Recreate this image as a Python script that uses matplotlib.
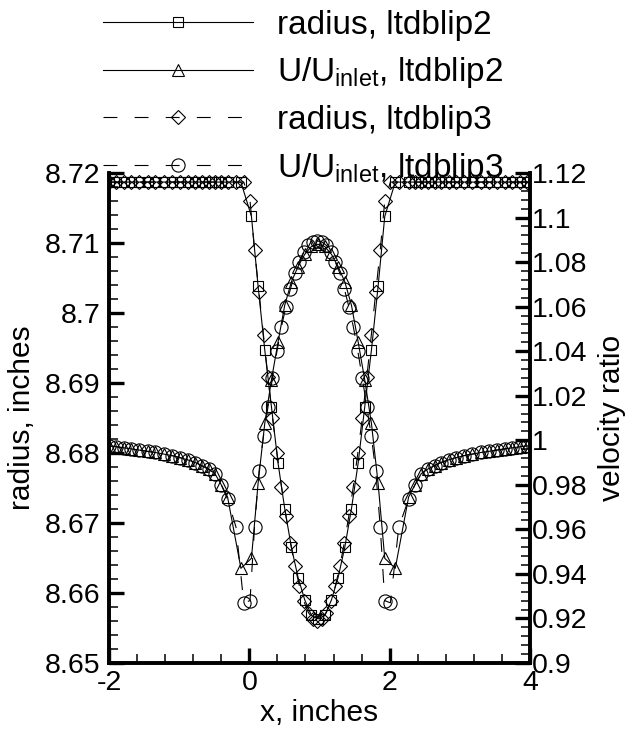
import matplotlib
matplotlib.use("Agg")
import matplotlib.pyplot as plt
from matplotlib.ticker import MultipleLocator, FormatStrFormatter

plt.rcParams['font.family'] = ['Liberation Sans', 'DejaVu Sans']
plt.rcParams['mathtext.fontset'] = 'custom'
plt.rcParams['mathtext.rm'] = 'Liberation Sans'
plt.rcParams['mathtext.it'] = 'Liberation Sans'

# x stations, shared tails upstream / downstream of the blip
x_up = [-2.0, -1.9, -1.79, -1.68, -1.57, -1.45, -1.34, -1.22, -1.10, -0.99,
        -0.88, -0.77, -0.68, -0.58, -0.49, -0.40, -0.31]
x_down = [2.27, 2.36, 2.45, 2.54, 2.64, 2.73, 2.84, 2.95, 3.06, 3.18,
          3.30, 3.41, 3.53, 3.64, 3.75, 3.86, 3.96]
u_up = [0.9975, 0.9971, 0.9966, 0.9961, 0.9956, 0.9950, 0.9945, 0.9938, 0.9931, 0.9922,
        0.9912, 0.9900, 0.9886, 0.9870, 0.9850, 0.9800, 0.9745]
u_down = [0.9745, 0.9800, 0.9850, 0.9870, 0.9886, 0.9900, 0.9912, 0.9922, 0.9931, 0.9938,
          0.9945, 0.9950, 0.9956, 0.9961, 0.9966, 0.9971, 0.9975]
r_flat = 8.7187

# ltdblip2
x_blip2 = [-0.12, 0.03, 0.125, 0.22, 0.315, 0.41, 0.505, 0.60, 0.695, 0.79, 0.885, 0.98,
           1.075, 1.17, 1.265, 1.36, 1.455, 1.55, 1.645, 1.74, 1.835, 1.93, 2.08]
r_blip2 = [8.7187, 8.7138, 8.7038, 8.6947, 8.6866, 8.6785, 8.6720, 8.6665, 8.6622, 8.6590, 8.6568, 8.6563,
           8.6568, 8.6590, 8.6622, 8.6665, 8.6720, 8.6785, 8.6866, 8.6947, 8.7038, 8.7138, 8.7187]
u_blip2 = [0.9425, 0.947, 0.9807, 1.0076, 1.0271, 1.0443, 1.0607, 1.0712, 1.078, 1.0835, 1.087, 1.088,
           1.087, 1.0835, 1.078, 1.0712, 1.0607, 1.0443, 1.0271, 1.0076, 0.9807, 0.947, 0.9425]

# ltdblip3
x_blip3 = [-0.19, -0.08, 0.010, 0.074, 0.138, 0.202, 0.266, 0.330, 0.394, 0.458, 0.522, 0.586,
           0.650, 0.714, 0.778, 0.842, 0.906, 0.970, 1.034, 1.098, 1.162, 1.226, 1.290, 1.354,
           1.418, 1.482, 1.546, 1.610, 1.674, 1.738, 1.802, 1.866, 1.930, 2.01, 2.13]
r_blip3 = [8.7187, 8.7187, 8.7160, 8.7090, 8.7030, 8.6968, 8.6908, 8.6850, 8.6800, 8.6752, 8.6710, 8.6672,
           8.6638, 8.6610, 8.6588, 8.6572, 8.6563, 8.6560, 8.6563, 8.6572, 8.6588, 8.6610, 8.6638, 8.6672,
           8.6710, 8.6752, 8.6800, 8.6850, 8.6908, 8.6968, 8.7030, 8.7090, 8.7160, 8.7187, 8.7187]
u_blip3 = [0.961, 0.927, 0.928, 0.961, 0.986, 1.002, 1.015, 1.028, 1.040, 1.051, 1.060, 1.068,
           1.075, 1.080, 1.0845, 1.0875, 1.089, 1.0895, 1.089, 1.0875, 1.0845, 1.080, 1.075, 1.068,
           1.060, 1.051, 1.040, 1.028, 1.015, 1.002, 0.986, 0.961, 0.928, 0.927, 0.961]

x2 = x_up + x_blip2 + x_down
r2 = [r_flat] * len(x_up) + r_blip2 + [r_flat] * len(x_down)
u2 = u_up + u_blip2 + u_down
x3 = x_up + x_blip3 + x_down
r3 = [r_flat] * len(x_up) + r_blip3 + [r_flat] * len(x_down)
u3 = u_up[:-1] + [0.9735] + u_blip3 + [0.9735] + u_down[1:]

fig = plt.figure(figsize=(6.25, 7.32), dpi=100)
ax = fig.add_axes([0.1744, 0.0943, 0.6736, 0.6694])
ax2 = ax.twinx()

lw = 0.8
dash = (0, (12.5, 15.5))
mk = dict(mfc='none', mec='black', mew=0.8, color='black', lw=lw)
h1, = ax.plot(x2, r2, ls='-', marker='s', ms=7, **mk)
h2, = ax2.plot(x2, u2, ls='-', marker='^', ms=8.5, **mk)
h3, = ax.plot(x3, r3, ls=dash, marker='D', ms=7, **mk)
h4, = ax2.plot(x3, u3, ls=dash, marker='o', ms=9.5, **mk)

ax.set_xlim(-2, 4)
ax.set_ylim(8.65, 8.72)
ax2.set_ylim(0.9, 1.12)

ax.xaxis.set_major_locator(MultipleLocator(2))
ax.xaxis.set_minor_locator(MultipleLocator(0.4))
ax.yaxis.set_major_locator(MultipleLocator(0.01))
ax.yaxis.set_minor_locator(MultipleLocator(0.002))
ax2.yaxis.set_major_locator(MultipleLocator(0.02))
ax2.yaxis.set_minor_locator(MultipleLocator(0.004))
ax.xaxis.set_major_formatter(FormatStrFormatter('%g'))
ax.yaxis.set_major_formatter(FormatStrFormatter('%g'))
ax2.yaxis.set_major_formatter(FormatStrFormatter('%g'))

for a in (ax, ax2):
    a.spines['top'].set_visible(False)
    for s in ('left', 'right', 'bottom'):
        a.spines[s].set_linewidth(2.6)
    a.tick_params(which='major', direction='in', length=10.5, width=2.4, labelsize=20.5)
    a.tick_params(which='minor', direction='in', length=6.5, width=1.1)
ax.tick_params(axis='y', which='both', left=True, right=False, pad=6)
ax.tick_params(axis='x', which='both', top=False, pad=5)
ax2.tick_params(axis='y', which='both', right=True, left=False, pad=1.5)

ax.set_xlabel('x, inches', fontsize=21.5, labelpad=2.5)
ax.set_ylabel('radius, inches', fontsize=21.5)
ax.yaxis.set_label_coords(-0.173, 0.5)
ax2.set_ylabel('velocity ratio', fontsize=21.5)
ax2.yaxis.set_label_coords(1.162, 0.5)

labels = ['radius, ltdblip2', r'U/U$_{\mathregular{inlet}}$, ltdblip2',
          'radius, ltdblip3', r'U/U$_{\mathregular{inlet}}$, ltdblip3']
ax2.legend([h1, h2, h3, h4], labels, loc='upper left', bbox_to_anchor=(0.1648, 0.987),
           bbox_transform=fig.transFigure, frameon=False, fontsize=24, handlelength=4.5,
           handletextpad=0.72, labelspacing=0.44, borderpad=0, borderaxespad=0, numpoints=1)

fig.savefig('out.png', dpi=100)
